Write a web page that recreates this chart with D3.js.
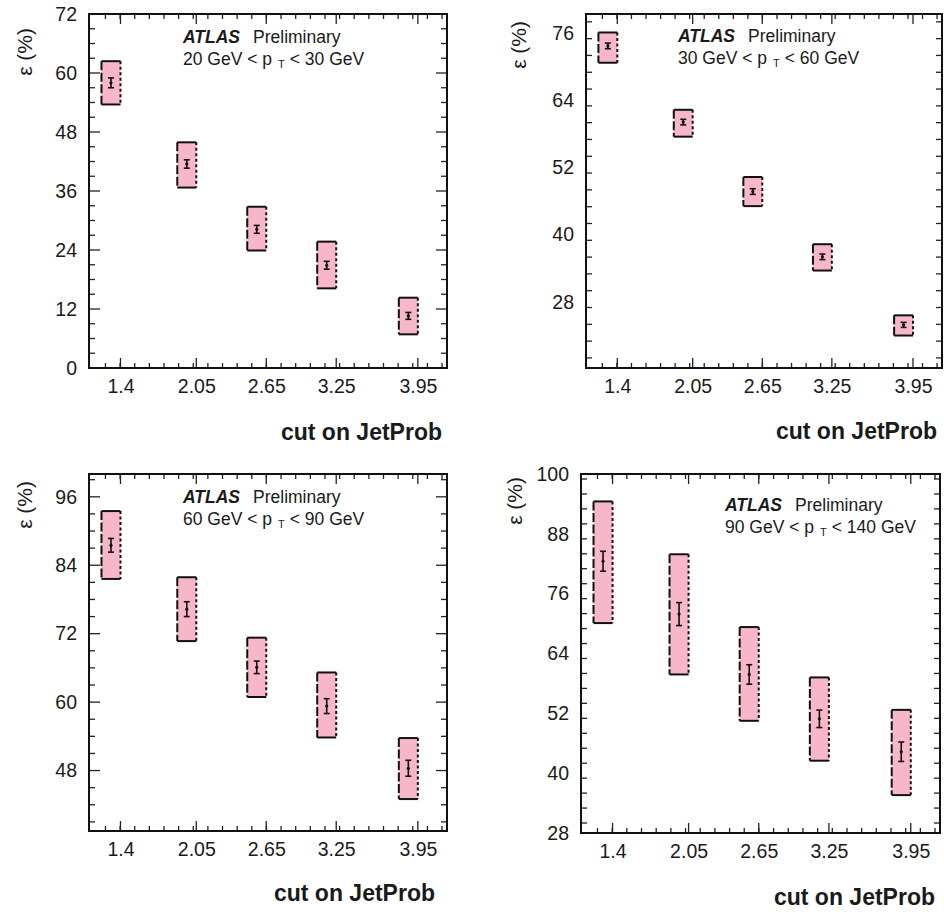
<!DOCTYPE html>
<html><head><meta charset="utf-8">
<script src="https://cdn.jsdelivr.net/npm/d3@7"></script>
<style>
html,body{margin:0;padding:0;background:#fff;}
text{font-family:"Liberation Sans",Arial,Helvetica,sans-serif;fill:#1a1a1a;}
</style></head>
<body>
<svg id="chart" width="944" height="912"></svg>
<script>
// ---------- data ----------
const cutValues = [1.4, 2.05, 2.65, 3.25, 3.95];
const cutLabels = ["1.4", "2.05", "2.65", "3.25", "3.95"];
const xTitle = "cut on JetProb";
const yTitle = "ε (%)";

const ptRanges = [["20 GeV < p", "T", "< 30 GeV"],
                  ["30 GeV < p", "T", "< 60 GeV"],
                  ["60 GeV < p", "T", "< 90 GeV"],
                  ["90 GeV < p", "T", "< 140 GeV"]];

const eff1 = [58.0, 41.5, 28.2, 20.9, 10.6];
const stat1 = [1.0, 0.85, 0.8, 0.8, 0.7];
const boxLo1 = [53.6, 36.7, 23.9, 16.2, 6.85];
const boxHi1 = [62.4, 45.9, 32.8, 25.7, 14.3];

const eff2 = [73.7, 60.1, 47.7, 36.05, 23.9];
const stat2 = [0.5, 0.5, 0.5, 0.5, 0.45];
const boxLo2 = [70.7, 57.5, 45.1, 33.6, 22.0];
const boxHi2 = [76.1, 62.3, 50.3, 38.3, 25.6];

const eff3 = [87.5, 76.3, 66.1, 59.3, 48.4];
const stat3 = [1.2, 1.3, 1.1, 1.3, 1.4];
const boxLo3 = [81.6, 70.7, 60.9, 53.8, 43.0];
const boxHi3 = [93.5, 81.9, 71.3, 65.2, 53.7];

const eff4 = [82.5, 71.9, 59.8, 50.9, 44.3];
const stat4 = [2.0, 2.3, 1.95, 1.75, 1.95];
const boxLo4 = [70.1, 59.8, 50.5, 42.5, 35.6];
const boxHi4 = [94.5, 83.9, 69.3, 59.2, 52.7];

const yDomains = [[0, 72], [16.2, 79.4], [37.4, 100], [28, 100]];
const yTickValues = [[0, 12, 24, 36, 48, 60, 72],
                     [28, 40, 52, 64, 76],
                     [48, 60, 72, 84, 96],
                     [28, 40, 52, 64, 76, 88, 100]];
const xDomain = [1.13, 4.2];

// ---------- layout (style) ----------
const panels = [
  {x0: 89, x1: 447, y0: 14, y1: 368, lab: [183, 43], ylab: [32, 28], xt: [442, 440],
   eff: eff1, stat: stat1, lo: boxLo1, hi: boxHi1},
  {x0: 586, x1: 942, y0: 14, y1: 368, lab: [678, 42], ylab: [526, 21], xt: [937, 439],
   eff: eff2, stat: stat2, lo: boxLo2, hi: boxHi2},
  {x0: 89, x1: 447, y0: 474, y1: 831, lab: [183, 503], ylab: [32, 481], xt: [435, 901],
   eff: eff3, stat: stat3, lo: boxLo3, hi: boxHi3},
  {x0: 581, x1: 940, y0: 474, y1: 833, lab: [725, 511], ylab: [522, 477], xt: [935, 905],
   eff: eff4, stat: stat4, lo: boxLo4, hi: boxHi4}
];

const svg = d3.select("#chart");
const boxW = 0.163;

panels.forEach((p, i) => {
  const x = d3.scaleLinear().domain(xDomain).range([p.x0, p.x1]);
  const y = d3.scaleLinear().domain(yDomains[i]).range([p.y1, p.y0]);
  const g = svg.append("g");

  const yMinor = d3.range(Math.ceil(yDomains[i][0] / 3) * 3, yDomains[i][1] + 0.001, 3);
  const xMinor = d3.range(1.271, xDomain[1], 0.1255);

  const tickG = g.append("g").attr("stroke", "#222").attr("stroke-width", 1.3);
  yMinor.forEach(v => {
    const major = yTickValues[i].includes(v);
    const L = major ? 11 : 6;
    tickG.append("line").attr("x1", p.x0).attr("x2", p.x0 + L).attr("y1", y(v)).attr("y2", y(v));
    tickG.append("line").attr("x1", p.x1).attr("x2", p.x1 - L).attr("y1", y(v)).attr("y2", y(v));
  });
  xMinor.forEach(v => {
    tickG.append("line").attr("x1", x(v)).attr("x2", x(v)).attr("y1", p.y1).attr("y2", p.y1 - 5);
    tickG.append("line").attr("x1", x(v)).attr("x2", x(v)).attr("y1", p.y0).attr("y2", p.y0 + 5);
  });
  cutValues.forEach(v => {
    tickG.append("line").attr("x1", x(v)).attr("x2", x(v)).attr("y1", p.y1).attr("y2", p.y1 - 10);
    tickG.append("line").attr("x1", x(v)).attr("x2", x(v)).attr("y1", p.y0).attr("y2", p.y0 + 10);
  });

  const yAxis = d3.axisLeft(y).tickValues(yTickValues[i]).tickSize(0).tickPadding(12).tickFormat(d3.format("d"));
  const ya = g.append("g").attr("transform", `translate(${p.x0},0)`).call(yAxis);
  ya.select(".domain").remove();
  ya.selectAll("text").style("font-size", "19.5px").style("font-family", '"Liberation Sans",Arial,sans-serif').attr("fill", "#1a1a1a");

  const xAxis = d3.axisBottom(x).tickValues(cutValues).tickSize(0).tickPadding(11)
     .tickFormat((d, k) => cutLabels[k]);
  const xa = g.append("g").attr("transform", `translate(0,${p.y1})`).call(xAxis);
  xa.select(".domain").remove();
  xa.selectAll("text").style("font-size", "19.5px").style("font-family", '"Liberation Sans",Arial,sans-serif').attr("fill", "#1a1a1a");

  const bg = g.append("g");
  cutValues.forEach((c, k) => {
    const xl = x(c - boxW), xr = x(c), yt = y(p.hi[k]), yb = y(p.lo[k]);
    bg.append("rect").attr("x", xl).attr("y", yt).attr("width", xr - xl).attr("height", yb - yt)
      .attr("fill", "#f7b7c9");
    bg.append("line").attr("x1", xl).attr("x2", xr).attr("y1", yt).attr("y2", yt).attr("stroke", "#111").attr("stroke-width", 2);
    bg.append("line").attr("x1", xl).attr("x2", xr).attr("y1", yb).attr("y2", yb).attr("stroke", "#111").attr("stroke-width", 2);
    bg.append("line").attr("x1", xl).attr("x2", xl).attr("y1", yt).attr("y2", yb).attr("stroke", "#111").attr("stroke-width", 2)
      .attr("stroke-dasharray", "9,2.5");
    bg.append("line").attr("x1", xr).attr("x2", xr).attr("y1", yt).attr("y2", yb).attr("stroke", "#111").attr("stroke-width", 2)
      .attr("stroke-dasharray", "3,2.5");
    const xc = x(c - boxW / 2);
    const e1 = y(p.eff[k] + p.stat[k]), e2 = y(p.eff[k] - p.stat[k]);
    bg.append("line").attr("x1", xc).attr("x2", xc).attr("y1", e1).attr("y2", e2).attr("stroke", "#111").attr("stroke-width", 1.6);
    [e1, e2].forEach(ev => bg.append("line").attr("x1", xc - 3).attr("x2", xc + 3).attr("y1", ev).attr("y2", ev)
      .attr("stroke", "#111").attr("stroke-width", 1.6));
    bg.append("circle").attr("cx", xc).attr("cy", y(p.eff[k])).attr("r", 1.6).attr("fill", "#111");
  });

  g.append("rect").attr("x", p.x0).attr("y", p.y0).attr("width", p.x1 - p.x0).attr("height", p.y1 - p.y0)
    .attr("fill", "none").attr("stroke", "#111").attr("stroke-width", 2);

  const t1 = g.append("text").attr("x", p.lab[0]).attr("y", p.lab[1]).style("font-size", "17.5px");
  t1.append("tspan").text("ATLAS").style("font-weight", "bold").style("font-style", "italic");
  t1.append("tspan").attr("dx", 13).text("Preliminary");
  const t2 = g.append("text").attr("x", p.lab[0]).attr("y", p.lab[1] + 21.5).style("font-size", "17.5px");
  t2.append("tspan").text(ptRanges[i][0]);
  t2.append("tspan").attr("dx", 6).attr("dy", 3).style("font-size", "11px").text(ptRanges[i][1]);
  t2.append("tspan").attr("dx", 5).attr("dy", -3).text(ptRanges[i][2]);

  g.append("text").attr("transform", `translate(${p.ylab[0]},${p.ylab[1]}) rotate(-90)`)
    .attr("text-anchor", "end").style("font-size", "21px").text(yTitle);
  g.append("text").attr("x", p.xt[0]).attr("y", p.xt[1]).attr("text-anchor", "end")
    .style("font-size", "23px").style("font-weight", "bold").attr("fill", "#000").text(xTitle);
});
</script>
</body></html>
